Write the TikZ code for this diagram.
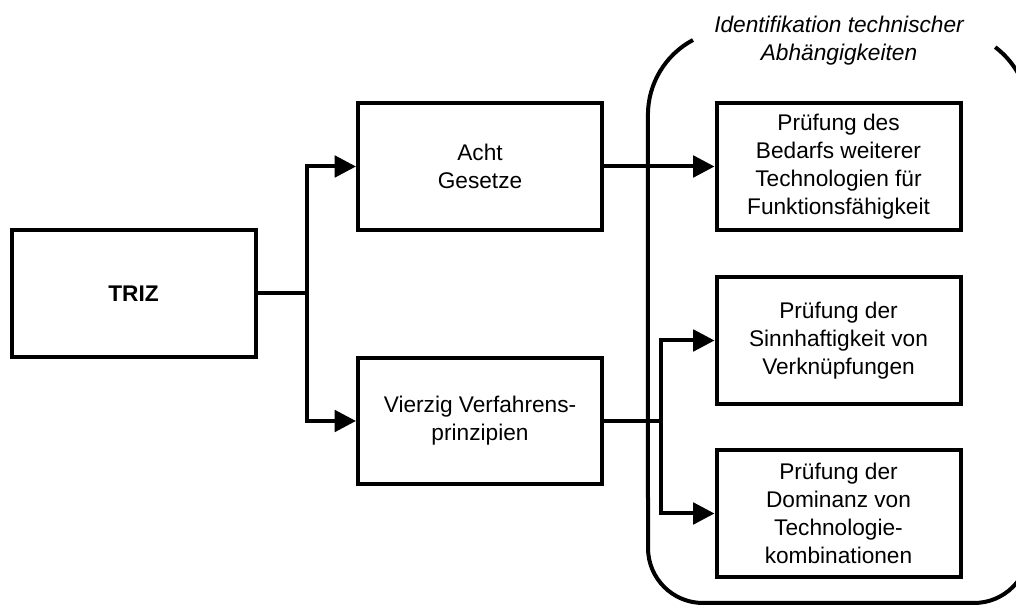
\documentclass[tikz,border=0pt]{standalone}
\usepackage{fontspec}
\setmainfont{Liberation Sans}
\usetikzlibrary{arrows.meta}

\begin{document}
\begin{tikzpicture}[x=0.75pt, y=0.75pt,
    box/.style={draw, line width=3pt, minimum width=183pt, minimum height=95pt,
        align=center, font=\fontsize{17pt}{21pt}\selectfont},
    conn/.style={line width=3pt},
    arr/.style={line width=3pt, -{Triangle[length=16pt, width=16pt]}}]
    \clip (0, 0) rectangle (1016, 606);

    % Open frame round the right column
    \draw[line width=3pt]
        (693, 566) arc[start angle=118, end angle=180, radius=85]
        -- (648, 58) arc[start angle=180, end angle=270, radius=55]
        -- (974, 3) arc[start angle=270, end angle=360, radius=55]
        -- (1029, 491) arc[start angle=0, end angle=53, radius=85];
    \node[align=center, font=\fontsize{17pt}{21pt}\selectfont\itshape] (frame) at (839, 565)
        {Identifikation technischer\\Abhängigkeiten};

    % Left and middle column
    \node[box, font=\fontsize{17pt}{21pt}\selectfont\bfseries] (triz) at (133.5, 312.5) {TRIZ};
    \node[box] (acht) at (480, 439.5) {Acht\\Gesetze};
    \node[box] (vierzig) at (480, 185) {Vierzig Verfahrens-\\prinzipien};

    % Right column
    \node[box] (bedarf) at (838.5, 439.5) {Prüfung des\\Bedarfs weiterer\\Technologien für\\Funktionsfähigkeit};
    \node[box] (sinn) at (838.5, 265.5) {Prüfung der\\Sinnhaftigkeit von\\Verknüpfungen};
    \node[box] (dominanz) at (838.5, 92.5) {Prüfung der\\Dominanz von\\Technologie-\\kombinationen};

    % Branch from TRIZ
    \draw[conn] (triz.east) -- ++(49, 0) coordinate (split1);
    \draw[arr] (split1) |- (acht.west);
    \draw[arr] (split1) |- (vierzig.west);

    % Laws to first check
    \draw[arr] (acht.east) -- (bedarf.west);

    % Principles to the other checks
    \draw[conn] (vierzig.east) -- ++(57, 0) coordinate (split2);
    \draw[arr] (split2) |- (sinn.west);
    \draw[arr] (split2) |- (dominanz.west);

\end{tikzpicture}
\end{document}
